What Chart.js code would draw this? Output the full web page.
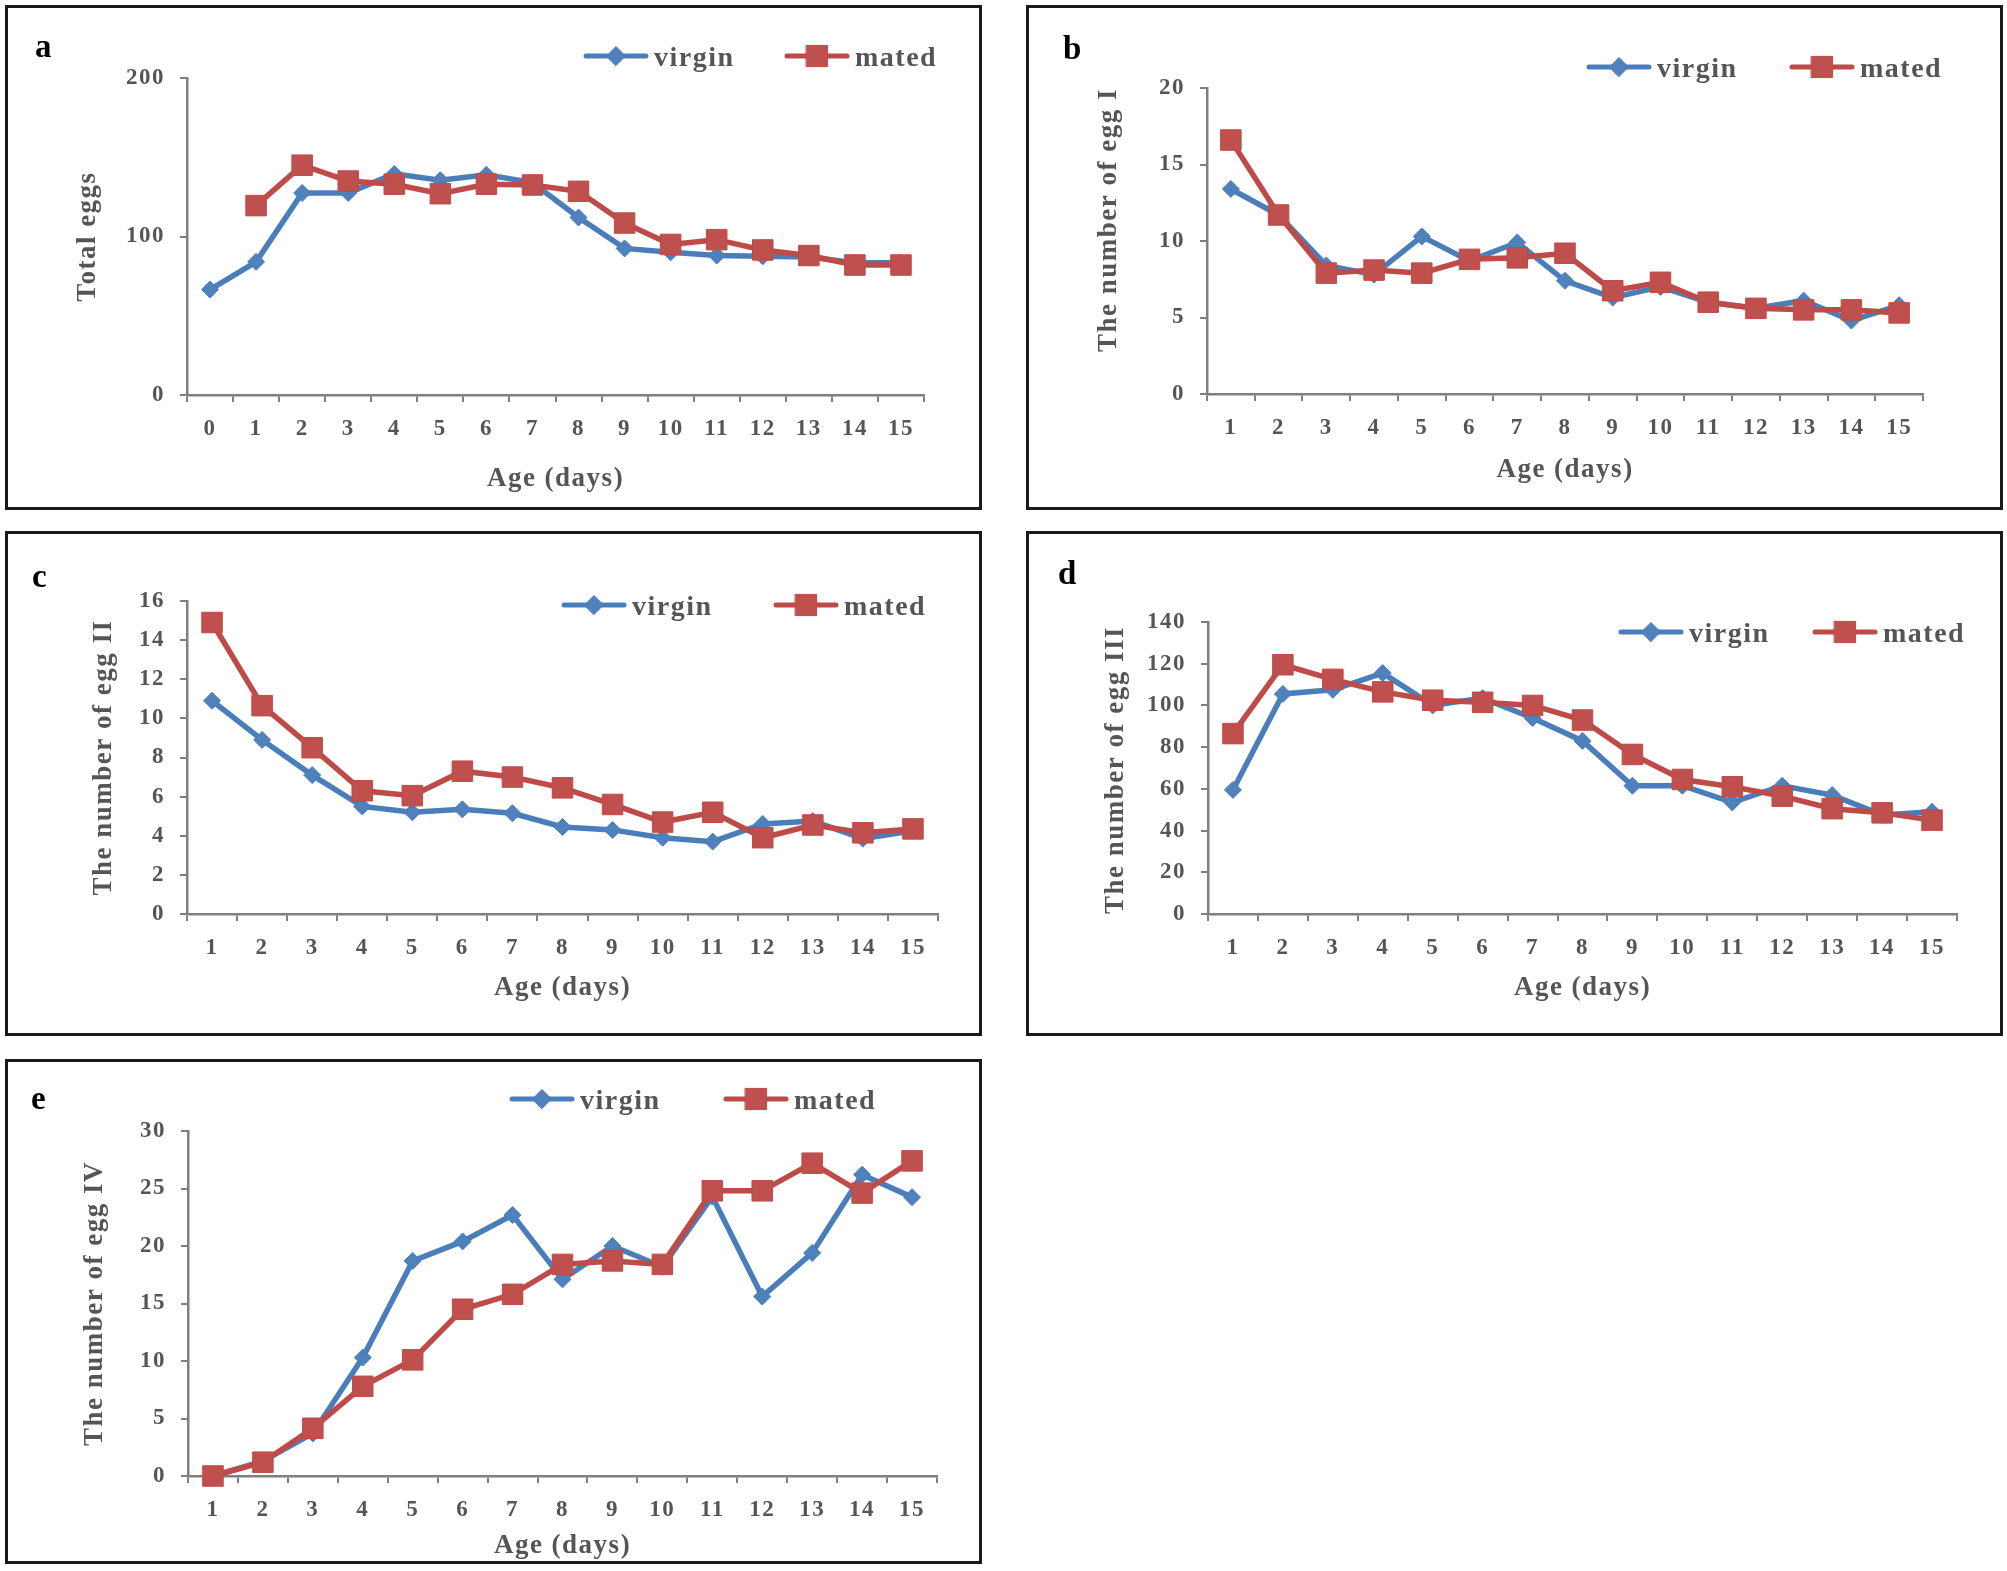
<!DOCTYPE html>
<html>
<head>
<meta charset="utf-8">
<script src="https://cdn.jsdelivr.net/npm/chart.js@4.4.0/dist/chart.umd.min.js"></script>
<style>
html,body{margin:0;padding:0;background:#fff;}
body{width:2007px;height:1571px;position:relative;overflow:hidden;font-family:'Liberation Serif','Times New Roman',serif;}
.box{position:absolute;width:977px;height:505px;box-sizing:border-box;border:3px solid #1a1a1a;pointer-events:none;z-index:5;}
.letter{position:absolute;font-weight:bold;font-size:33px;line-height:33px;color:#000;z-index:6;}
.lg-text{position:absolute;font-weight:bold;font-size:28px;line-height:28px;color:#555555;letter-spacing:1.5px;white-space:nowrap;z-index:6;}
.lg-icon{position:absolute;z-index:6;}
</style>
</head>
<body>
<script>
// ---------- data ----------
const ageLabelsA = ['0','1','2','3','4','5','6','7','8','9','10','11','12','13','14','15'];
const ageLabels  = ['1','2','3','4','5','6','7','8','9','10','11','12','13','14','15'];

const totalEggsVirgin = [66.5, 84, 127.5, 127.5, 139.5, 135.5, 139, 134, 112, 92.5, 90, 88, 87.5, 87, 83.5, 83.5];
const totalEggsMated  = [null, 119.5, 145, 135, 133, 127, 133, 132.5, 128.5, 108.5, 95, 98, 91.5, 88, 82, 82];

const eggIVirgin = [13.4, 11.7, 8.4, 7.8, 10.3, 8.7, 9.9, 7.4, 6.3, 7.0, 6.0, 5.6, 6.1, 4.8, 5.8];
const eggIMated  = [16.6, 11.7, 7.9, 8.1, 7.9, 8.8, 8.9, 9.2, 6.75, 7.3, 6.0, 5.6, 5.5, 5.5, 5.3];

const eggIIVirgin = [10.9, 8.9, 7.1, 5.5, 5.2, 5.35, 5.15, 4.45, 4.3, 3.9, 3.7, 4.6, 4.75, 3.85, 4.25];
const eggIIMated  = [14.9, 10.65, 8.5, 6.3, 6.05, 7.3, 7.0, 6.45, 5.6, 4.7, 5.2, 3.9, 4.55, 4.15, 4.35];

const eggIIIVirgin = [59.5, 105.5, 107.5, 115.5, 100, 103.5, 94, 83, 61.5, 61.5, 53.5, 61.5, 57, 47.5, 49];
const eggIIIMated  = [86.5, 119.5, 112.5, 106.5, 102.5, 101.5, 100, 93, 76.5, 64.5, 61, 56.5, 50.5, 48.5, 45];

const eggIVVirgin = [0, 1.3, 3.7, 10.3, 18.7, 20.4, 22.7, 17.1, 20.0, 18.2, 24.3, 15.6, 19.4, 26.2, 24.25];
const eggIVMated  = [0, 1.2, 4.15, 7.8, 10.1, 14.5, 15.8, 18.4, 18.7, 18.4, 24.8, 24.8, 27.2, 24.6, 27.4];

const seriesNames = ['virgin', 'mated'];
const xAxisTitle = 'Age (days)';
const yAxisTitles = ['Total eggs', 'The number of egg I', 'The number of egg II', 'The number of egg III', 'The number of egg IV'];
const panelLetters = ['a', 'b', 'c', 'd', 'e'];
const yMax  = [200, 20, 16, 140, 30];
const yStep = [100, 5, 2, 20, 5];

// ---------- style ----------
const FONT = "'Liberation Serif', 'Times New Roman', serif";
const TEXT = '#555555';
const AXIS = '#7f7f7f';
const BLUE_LINE = '#4A7EBB', BLUE_FILL = '#4F81BD';
const RED_LINE = '#BE4B48', RED_FILL = '#C0504D';
const TICK_SIZE = 23, TITLE_SIZE = 27;
const W = 977, H = 505;

const panels = [
  {box:[5,5],    area:{L:187,R:924,T:78,B:395},   labels:ageLabelsA, virgin:totalEggsVirgin, mated:totalEggsMated, yAlign:'center', yTitleX:88,   xTitleY:479,  legend:{v:583, m:784, y:56},   letter:{x:35, base:58}},
  {box:[1026,5], area:{L:1207,R:1923,T:88,B:394}, labels:ageLabels,  virgin:eggIVirgin,      mated:eggIMated,      yAlign:'end',    yTitleX:1109, xTitleY:470,  legend:{v:1586, m:1789, y:67}, letter:{x:1063, base:60}},
  {box:[5,531],  area:{L:187,R:938,T:601,B:914},  labels:ageLabels,  virgin:eggIIVirgin,     mated:eggIIMated,     yAlign:'center', yTitleX:104,  xTitleY:988,  legend:{v:561, m:773, y:605},  letter:{x:32, base:588}},
  {box:[1026,531],area:{L:1208,R:1957,T:622,B:914},labels:ageLabels, virgin:eggIIIVirgin,    mated:eggIIIMated,    yAlign:'start',  yTitleX:1116, xTitleY:988,  legend:{v:1618, m:1812, y:632},letter:{x:1058, base:585}},
  {box:[5,1059], area:{L:188,R:937,T:1131,B:1476},labels:ageLabels,  virgin:eggIVVirgin,     mated:eggIVMated,     yAlign:'center', yTitleX:95,   xTitleY:1546, legend:{v:509, m:723, y:1099}, letter:{x:31, base:1110}}
];

const letterSpacingPlugin = {id:'ls', beforeDraw(c){ try { c.ctx.letterSpacing = '1.5px'; } catch(e){} }};

function drawMarker(ctx, style, radius, x, y) {
  if (Chart.helpers && Chart.helpers.drawPoint) {
    Chart.helpers.drawPoint(ctx, {pointStyle: style, radius: radius, rotation: 0, borderWidth: 1}, x, y);
    return;
  }
  ctx.beginPath();
  if (style === 'rect') {
    const s = radius * Math.SQRT1_2;
    ctx.rect(x - s, y - s, 2 * s, 2 * s);
  } else {
    ctx.moveTo(x - radius, y); ctx.lineTo(x, y - radius); ctx.lineTo(x + radius, y); ctx.lineTo(x, y + radius); ctx.closePath();
  }
  ctx.fill(); ctx.stroke();
}

function buildLegend(chart, p) {
  const items = [
    {ds: chart.data.datasets[0], x: p.legend.v, style: 'rectRot', r: 9.5},
    {ds: chart.data.datasets[1], x: p.legend.m, style: 'rect', r: 15}
  ];
  items.forEach(it => {
    const ic = document.createElement('canvas');
    ic.width = 70; ic.height = 32;
    ic.className = 'lg-icon';
    ic.style.left = it.x + 'px';
    ic.style.top = (p.legend.y - 16) + 'px';
    document.body.appendChild(ic);
    const ctx = ic.getContext('2d');
    ctx.strokeStyle = it.ds.borderColor;
    ctx.lineWidth = 5;
    ctx.lineCap = 'round';
    ctx.beginPath(); ctx.moveTo(3, 16); ctx.lineTo(63, 16); ctx.stroke();
    ctx.fillStyle = it.ds.backgroundColor;
    ctx.strokeStyle = it.ds.borderColor;
    ctx.lineWidth = 1;
    drawMarker(ctx, it.style, it.r, 33, 16);
    const t = document.createElement('div');
    t.className = 'lg-text';
    t.textContent = it.ds.label;
    t.style.left = (it.x + 71) + 'px';
    t.style.top = (p.legend.y - 13.5) + 'px';
    document.body.appendChild(t);
  });
}

panels.forEach((p, i) => {
  const bl = p.box[0], bt = p.box[1];
  const cv = document.createElement('canvas');
  cv.width = W; cv.height = H;
  cv.style.cssText = 'position:absolute;left:' + bl + 'px;top:' + bt + 'px;width:' + W + 'px;height:' + H + 'px;';
  document.body.appendChild(cv);

  const lh = TITLE_SIZE * 1.2;
  const tickFont = {family: FONT, size: TICK_SIZE, weight: 'bold'};
  const titleFont = {family: FONT, size: TITLE_SIZE, weight: 'bold'};

  const chart = new Chart(cv, {
    type: 'line',
    data: {
      labels: p.labels,
      datasets: [
        {label: seriesNames[0], data: p.virgin, borderColor: BLUE_LINE, backgroundColor: BLUE_FILL,
         pointStyle: 'rectRot', pointRadius: 8.5, pointBorderWidth: 1, pointBorderColor: BLUE_LINE, pointBackgroundColor: BLUE_FILL,
         borderWidth: 5.5, tension: 0, order: 1, clip: false, spanGaps: false},
        {label: seriesNames[1], data: p.mated, borderColor: RED_LINE, backgroundColor: RED_FILL,
         pointStyle: 'rect', pointRadius: 14.5, pointBorderWidth: 1, pointBorderColor: RED_LINE, pointBackgroundColor: RED_FILL,
         borderWidth: 5.5, tension: 0, order: 0, clip: false, spanGaps: false}
      ]
    },
    options: {
      responsive: false,
      animation: false,
      devicePixelRatio: 1,
      events: [],
      layout: {padding: {top: p.area.T - bt, right: bl + W - p.area.R, left: 0, bottom: 0}},
      plugins: {legend: {display: false}, tooltip: {enabled: false}, title: {display: false}},
      scales: {
        x: {
          type: 'category',
          offset: true,
          grid: {display: true, offset: true, drawOnChartArea: false, drawTicks: true, tickLength: 7, color: AXIS, lineWidth: 2},
          border: {display: true, color: AXIS, width: 2.5},
          ticks: {color: TEXT, font: tickFont, padding: 13, maxRotation: 0, autoSkip: false},
          title: {display: true, text: xAxisTitle, color: TEXT, font: titleFont,
                  padding: {top: 0, bottom: Math.max(0, (bt + H - p.xTitleY) - lh / 2)}},
          afterFit(s) { s.height = bt + H - p.area.B; }
        },
        y: {
          min: 0, max: yMax[i],
          grid: {display: true, drawOnChartArea: false, drawTicks: true, tickLength: 7, color: AXIS, lineWidth: 2},
          border: {display: true, color: AXIS, width: 2.5},
          ticks: {stepSize: yStep[i], color: TEXT, font: tickFont, padding: 15},
          title: {display: true, text: yAxisTitles[i], color: TEXT, font: titleFont, align: p.yAlign,
                  padding: {top: Math.max(0, (p.yTitleX - bl) - lh / 2), bottom: 0}},
          afterFit(s) { s.width = p.area.L - bl; }
        }
      }
    },
    plugins: [letterSpacingPlugin]
  });

  buildLegend(chart, p);

  const lt = document.createElement('div');
  lt.className = 'letter';
  lt.textContent = panelLetters[i];
  lt.style.left = p.letter.x + 'px';
  lt.style.top = (p.letter.base - 27.7) + 'px';
  document.body.appendChild(lt);

  const bx = document.createElement('div');
  bx.className = 'box';
  bx.style.left = bl + 'px';
  bx.style.top = bt + 'px';
  document.body.appendChild(bx);
});
</script>
</body>
</html>
